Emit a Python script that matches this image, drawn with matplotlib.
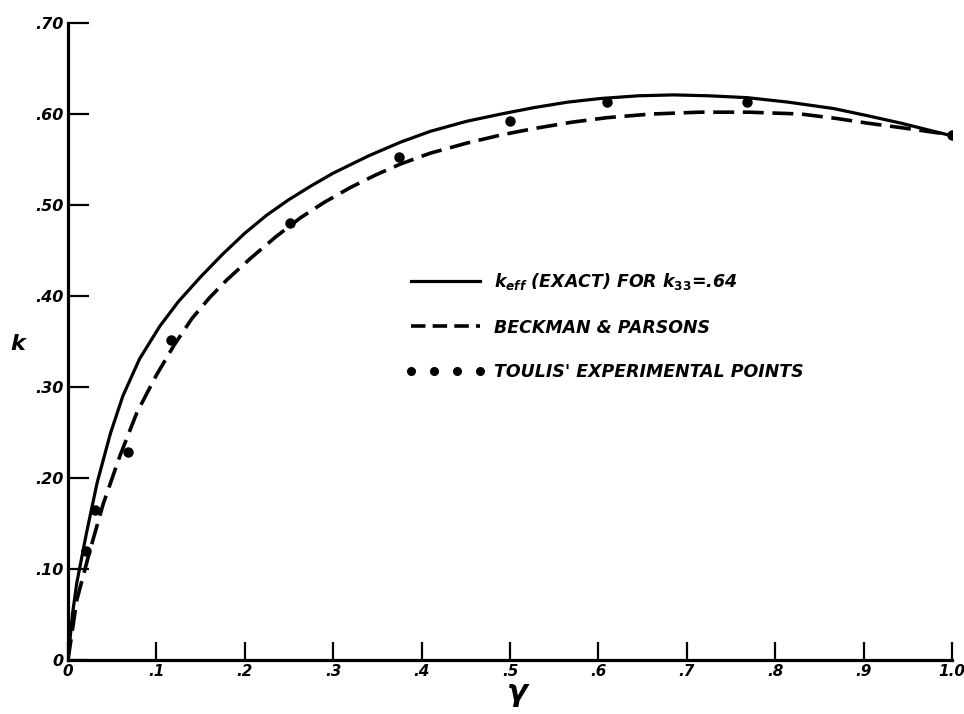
import matplotlib
matplotlib.use("Agg")
import matplotlib.pyplot as plt
from matplotlib.lines import Line2D

plt.rcParams['font.family'] = ['DejaVu Sans']
plt.rcParams['mathtext.fontset'] = 'custom'
plt.rcParams['mathtext.it'] = 'DejaVu Sans:italic:bold'
plt.rcParams['mathtext.rm'] = 'DejaVu Sans:bold'
plt.rcParams['mathtext.bf'] = 'DejaVu Sans:bold'

# Exact k_eff curve (k33 = .64)
exact_x = [0.0, 0.005, 0.01, 0.021, 0.033, 0.048, 0.062, 0.081, 0.104, 0.125, 0.15,
           0.175, 0.2, 0.225, 0.25, 0.275, 0.30, 0.34, 0.376, 0.41, 0.451, 0.49,
           0.527, 0.565, 0.602, 0.645, 0.685, 0.725, 0.768, 0.815, 0.866, 0.905,
           0.942, 0.975, 1.0]
exact_y = [0.0, 0.05, 0.085, 0.14, 0.195, 0.249, 0.29, 0.331, 0.367, 0.394, 0.421,
           0.446, 0.469, 0.489, 0.506, 0.521, 0.535, 0.554, 0.569, 0.581, 0.592, 0.600,
           0.607, 0.613, 0.617, 0.620, 0.621, 0.620, 0.618, 0.613, 0.606, 0.598,
           0.590, 0.582, 0.576]

# Beckman & Parsons
bp_x = [0.0, 0.01, 0.025, 0.04, 0.059, 0.078, 0.10, 0.12, 0.14, 0.16, 0.18, 0.206,
        0.235, 0.263, 0.29, 0.319, 0.348, 0.376, 0.41, 0.451, 0.49, 0.527, 0.57,
        0.61, 0.66, 0.715, 0.77, 0.829, 0.87, 0.904, 0.95, 1.0]
bp_y = [0.0, 0.066, 0.121, 0.172, 0.225, 0.272, 0.313, 0.346, 0.375, 0.398, 0.418, 0.441,
        0.465, 0.486, 0.503, 0.519, 0.533, 0.545, 0.557, 0.568, 0.577, 0.584, 0.591,
        0.596, 0.600, 0.602, 0.602, 0.600, 0.595, 0.590, 0.584, 0.577]

# Toulis' experimental points
pts_x = [0.02, 0.03, 0.068, 0.117, 0.251, 0.375, 0.5, 0.61, 0.768, 1.0]
pts_y = [0.12, 0.165, 0.229, 0.352, 0.48, 0.553, 0.592, 0.613, 0.613, 0.577]

xticks = [0, .1, .2, .3, .4, .5, .6, .7, .8, .9, 1.0]
xtick_labels = ['0', '.1', '.2', '.3', '.4', '.5', '.6', '.7', '.8', '.9', '1.0']
yticks = [0, .1, .2, .3, .4, .5, .6, .7]
ytick_labels = ['0', '.10', '.20', '.30', '.40', '.50', '.60', '.70']

labels = [r'$k_{eff}$ (EXACT) FOR $k_{33}$=.64',
          'BECKMAN & PARSONS',
          "TOULIS' EXPERIMENTAL POINTS"]

fig = plt.figure(figsize=(9.64, 7.14), dpi=100)
ax = fig.add_axes([68/964, 1-660/714, 884/964, 637/714])

ax.plot(exact_x, exact_y, color='black', lw=2.3, solid_capstyle='round',
        solid_joinstyle='round')
ax.plot(bp_x, bp_y, color='black', lw=2.6, linestyle=(0, (5.8, 2.4)))
ax.plot(pts_x, pts_y, linestyle='None', marker='o', color='black', markersize=6.5)

ax.set_xlim(0, 1.0)
ax.set_ylim(0, 0.70)
for s in ['top', 'right']:
    ax.spines[s].set_visible(False)
for s in ['left', 'bottom']:
    ax.spines[s].set_linewidth(2.3)

ax.set_xticks(xticks)
ax.set_xticklabels(xtick_labels, fontsize=11, fontweight='bold', fontstyle='italic')
ax.set_yticks(yticks)
ax.set_yticklabels(ytick_labels, fontsize=11.5, fontweight='bold', fontstyle='italic')
ax.tick_params(axis='x', direction='in', length=13, width=1.6, pad=3)
ax.tick_params(axis='y', direction='in', length=15, width=1.6, pad=3)

ax.set_ylabel('k', rotation=0, fontsize=16, fontweight='bold', fontstyle='italic')
ax.yaxis.set_label_coords(-0.057, 0.48)
ax.set_xlabel(r'$\gamma$', fontsize=22)
ax.xaxis.set_label_coords(0.509, -0.032)

handles = [Line2D([], [], color='black', lw=2.3),
           Line2D([], [], color='black', lw=2.6, linestyle=(0, (4.0, 2.0))),
           Line2D([], [], color='black', linestyle='None', marker='o', markersize=5.5)]
leg = ax.legend(handles, labels, loc='center left', frameon=False,
                bbox_to_anchor=((390-68)/884, (660-326)/637),
                handlelength=4.6, handletextpad=0.5, labelspacing=1.55, numpoints=4,
                prop={'size': 12.5, 'weight': 'bold', 'style': 'italic'})

fig.savefig('out.png', dpi=100)
